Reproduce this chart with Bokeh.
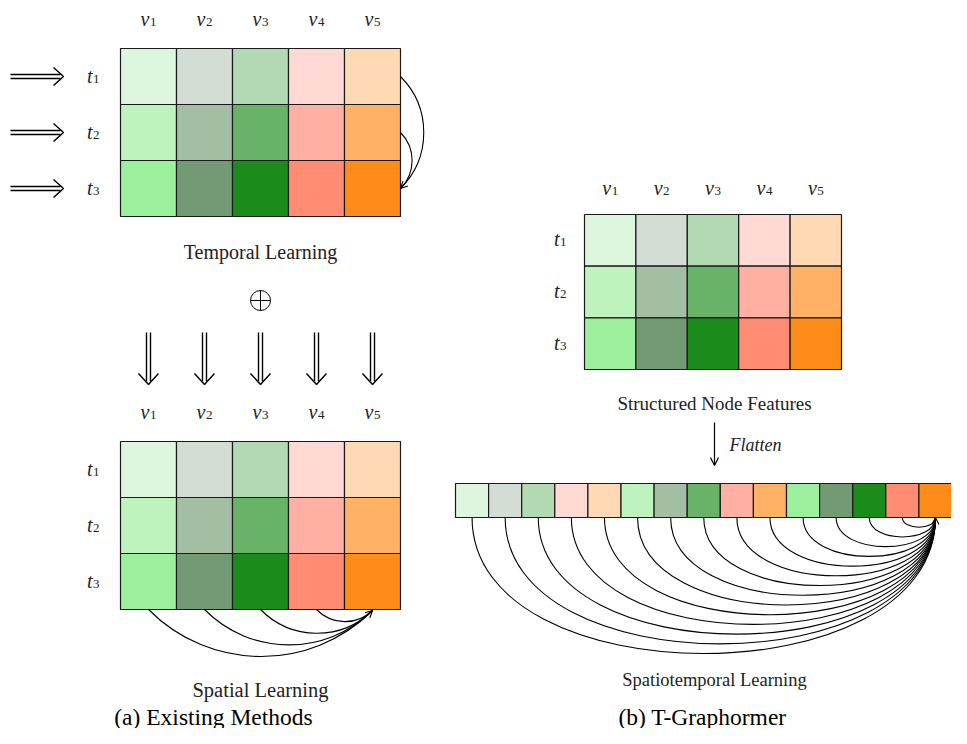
import math
from bokeh.plotting import figure
from bokeh.models import Range1d, Arrow, OpenHead
from bokeh.core.properties import value
from bokeh.embed import file_html
from bokeh.resources import INLINE

# ---------------- data ----------------
node_subs = ["1", "2", "3", "4", "5"]          # v_1 .. v_5
step_subs = ["1", "2", "3"]                    # t_1 .. t_3
row_t1 = ["#DCF7DE", "#D3DDD3", "#B3D9B3", "#FFD9D3", "#FFD9B3"]
row_t2 = ["#BEF3BE", "#A3BEA3", "#69B369", "#FFB0A3", "#FFB166"]
row_t3 = ["#9CEF9C", "#739B73", "#1B8B1B", "#FF8C73", "#FF8C1A"]
rows = [row_t1, row_t2, row_t3]
flat_colors = row_t1 + row_t2 + row_t3         # flattened (row-major)

caption_a = "(a) Existing Methods"
caption_b = "(b) T-Graphormer"
label_temporal = "Temporal Learning"
label_spatial = "Spatial Learning"
label_struct = "Structured Node Features"
label_st = "Spatiotemporal Learning"
label_flatten = "Flatten"

SERIF = value("Liberation Serif")
TY = -7  # text baseline correction

p = figure(width=951, height=728, x_range=Range1d(0, 951), y_range=Range1d(728, 0),
           output_backend="svg", toolbar_location=None, min_border=0,
           x_axis_location=None, y_axis_location=None)
p.grid.visible = False
p.outline_line_color = None
p.background_fill_color = "white"
p.border_fill_color = "white"


def grid(x0, y0, cw, ch):
    L, R, T, B, C = [], [], [], [], []
    for i, row in enumerate(rows):
        for j, c in enumerate(row):
            L.append(x0 + j * cw); R.append(x0 + (j + 1) * cw)
            T.append(y0 + i * ch); B.append(y0 + (i + 1) * ch)
            C.append(c)
    p.quad(left=L, right=R, top=T, bottom=B, fill_color=C,
           line_color="#1a1a1a", line_width=1.2)


def math_labels(xs, ys, base, subs, size=20, subsize=13):
    p.text(x=[x + 1 for x in xs], y=[y + TY for y in ys], text=[base] * len(xs),
           text_font=SERIF, text_font_style="italic", text_font_size=f"{size}px",
           text_align="right", text_baseline="alphabetic", text_color="#222")
    p.text(x=[x + 1.5 for x in xs], y=[y + 3 + TY for y in ys], text=subs, text_font=SERIF,
           text_font_size=f"{subsize}px", text_align="left",
           text_baseline="alphabetic", text_color="#222")


def bend(P0, P3, theta_deg, s):
    dx, dy = P3[0] - P0[0], P3[1] - P0[1]
    L = math.hypot(dx, dy)
    ux, uy = dx / L, dy / L
    th = math.radians(theta_deg) * s
    k = 0.3915 * L
    c1 = (P0[0] + k * (math.cos(th) * ux - math.sin(th) * uy),
          P0[1] + k * (math.sin(th) * ux + math.cos(th) * uy))
    th2 = -th
    vx, vy = -ux, -uy
    c2 = (P3[0] + k * (math.cos(th2) * vx - math.sin(th2) * vy),
          P3[1] + k * (math.sin(th2) * vx + math.cos(th2) * vy))
    return c1, c2


def arcs(starts, end, theta, s):
    x0, y0, x1, y1, cx0, cy0, cx1, cy1 = [], [], [], [], [], [], [], []
    last_c2 = None
    for st in starts:
        c1, c2 = bend(st, end, theta, s)
        x0.append(st[0]); y0.append(st[1]); x1.append(end[0]); y1.append(end[1])
        cx0.append(c1[0]); cy0.append(c1[1]); cx1.append(c2[0]); cy1.append(c2[1])
        last_c2 = c2
    p.bezier(x0=x0, y0=y0, x1=x1, y1=y1, cx0=cx0, cy0=cy0, cx1=cx1, cy1=cy1,
             line_color="black", line_width=1.1)
    tx, ty = end[0] - last_c2[0], end[1] - last_c2[1]
    n = math.hypot(tx, ty)
    p.add_layout(Arrow(end=OpenHead(size=7, line_width=1.1), line_width=1.1,
                       x_start=end[0] - 2 * tx / n, y_start=end[1] - 2 * ty / n,
                       x_end=end[0], y_end=end[1]))


def double_arrow_h(x0, x1, y):
    p.multi_line(xs=[[x0, x1 - 3], [x0, x1 - 3], [x1 - 10, x1, x1 - 10]],
                 ys=[[y - 2, y - 2], [y + 2, y + 2], [y - 9, y, y + 9]],
                 line_color="black", line_width=1.4)


def double_arrow_v(x, y0, y1):
    p.multi_line(xs=[[x - 2, x - 2], [x + 2, x + 2], [x - 10, x, x + 10]],
                 ys=[[y0, y1 - 3], [y0, y1 - 3], [y1 - 11, y1, y1 - 11]],
                 line_color="black", line_width=1.4)


def label(x, y, txt, size, style="normal", align="center", color="#222"):
    p.text(x=[x], y=[y + TY], text=[txt], text_font=SERIF, text_font_size=size,
           text_font_style=style, text_align=align, text_baseline="alphabetic",
           text_color=color)


# ---------------- (a) top: temporal learning ----------------
gx, gy, cw = 120, 48, 56
grid(gx, gy, cw, cw)
cxs = [gx + cw * (j + 0.5) for j in range(len(node_subs))]
rys = [gy + cw * (i + 0.5) for i in range(len(step_subs))]
math_labels(cxs, [gy - 23] * 5, "v", node_subs)
math_labels([91] * 3, [y + 6 for y in rys], "t", step_subs)
for y in rys:
    double_arrow_h(10, 63, y)
arcs([(gx + 5 * cw, rys[0]), (gx + 5 * cw, rys[1])], (gx + 5 * cw, rys[2]), 45, -1)
label(260, 258, label_temporal, "20px")
p.scatter(x=[260], y=[300], marker="circle_cross", size=20, fill_color="white",
          line_color="black", line_width=1.0)
for x in cxs:
    double_arrow_v(x, 332, 384)

# ---------------- (a) bottom: spatial learning ----------------
gy2 = 441
grid(gx, gy2, cw, cw)
rys2 = [gy2 + cw * (i + 0.5) for i in range(len(step_subs))]
math_labels(cxs, [gy2 - 23] * 5, "v", node_subs)
math_labels([91] * 3, [y + 6 for y in rys2], "t", step_subs)
bot = gy2 + 3 * cw
arcs([(x, bot) for x in cxs[:4]], (cxs[4], bot + 1), 45, 1)
label(260, 696, label_spatial, "20.5px")

# ---------------- (b) T-Graphormer ----------------
rx, ry, rc = 584, 214, 51.4
rch = (369 - 214) / 3
grid(rx, ry, rc, rch)
rcx = [rx + rc * (j + 0.5) for j in range(5)]
rcy = [ry + rch * (i + 0.5) for i in range(3)]
math_labels(rcx, [ry - 20] * 5, "v", node_subs)
math_labels([558] * 3, [y + 6 for y in rcy], "t", step_subs)
label(714, 410, label_struct, "19px")
p.add_layout(Arrow(end=OpenHead(size=8, line_width=1.2), line_width=1.2,
                   x_start=714, y_start=422, x_end=714, y_end=465))
label(729, 451, label_flatten, "18px", style="italic", align="left")

sx, sy, sw, sh = 455, 483, 33.1, 34
n = len(flat_colors)
p.quad(left=[sx + k * sw for k in range(n)], right=[sx + (k + 1) * sw for k in range(n)],
       top=[sy] * n, bottom=[sy + sh] * n,
       fill_color=flat_colors, line_color="#1a1a1a", line_width=1.2)
scx = [sx + sw * (k + 0.5) for k in range(n)]
arcs([(x, sy + sh) for x in scx[:-1]], (scx[-1], sy + sh), 90, 1)
label(714, 686, label_st, "18.5px")

# captions (as low as the canvas allows)
label(213, 723, caption_a, "23.5px", color="black")
label(702, 723, caption_b, "23.5px", color="black")

open("out.html", "w").write(file_html(p, INLINE))
